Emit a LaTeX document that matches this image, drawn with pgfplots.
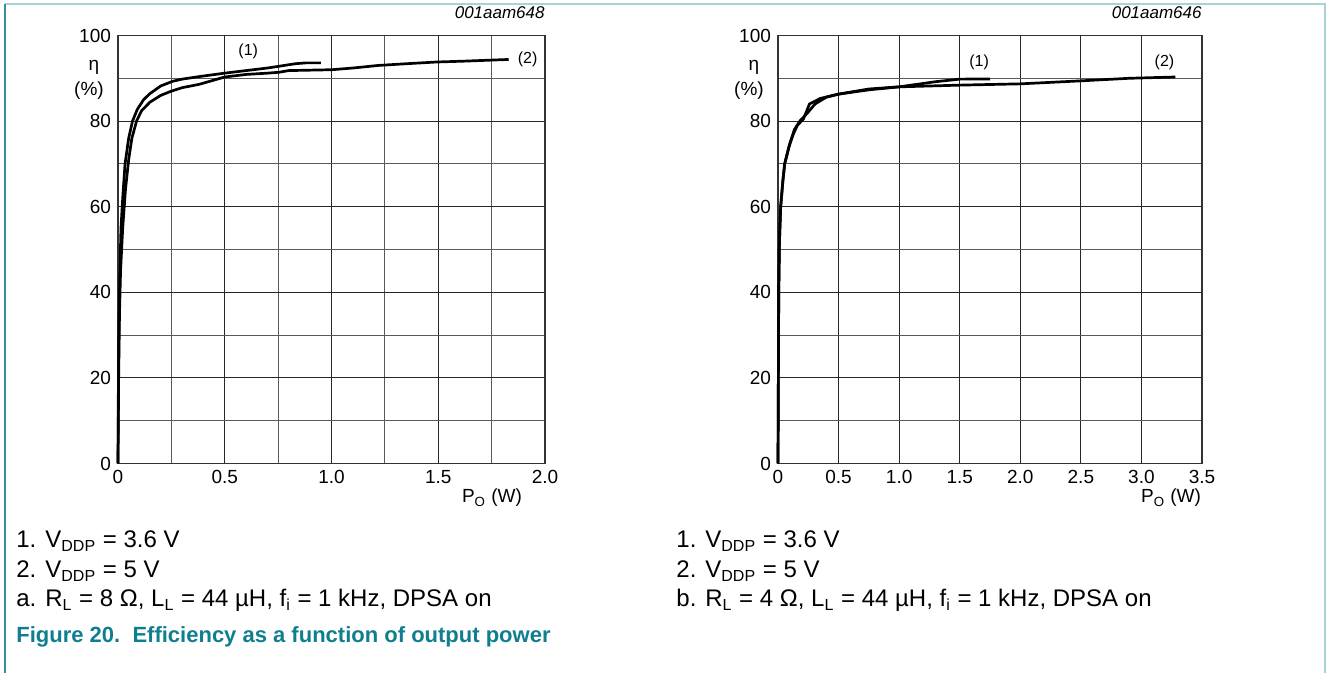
\documentclass[border=0pt]{standalone}
\usepackage{pgfplots}
\pgfplotsset{compat=1.18}
\usepackage{fontspec}
\setmainfont{Liberation Sans}

\definecolor{capteal}{HTML}{0F7F8F}
\definecolor{framedark}{HTML}{3A8F9C}
\definecolor{framelight}{HTML}{A6D3D6}

% one efficiency chart, y in percent
\pgfplotsset{effplot/.style={
    scale only axis, width=213.5pt, height=214pt, anchor=south west,
    ymin=0, ymax=100,
    ytick={0,20,...,100}, minor ytick={10,30,...,90},
    grid=both,
    major grid style={black!85, line width=0.5pt},
    minor grid style={black!65, line width=0.5pt},
    axis line style={black!80, line width=0.6pt},
    major tick length=0pt, minor tick length=0pt,
    tick label style={font=\fontsize{9.5}{11}\selectfont},
    /pgf/number format/assume math mode=true,
    clip=false,
}, curve/.style={black, line width=1.35pt, line join=round, no marks}}

\begin{document}
\begin{tikzpicture}
\path[use as bounding box] (0,0) rectangle (663pt,336.5pt);

% frame of the figure
\draw[framelight, line width=0.8pt] (2.5pt,334.5pt) -- (663pt,334.5pt);
\draw[framelight, line width=0.8pt] (662.5pt,334.5pt) -- (662.5pt,0pt);
\draw[framedark, line width=0.9pt] (2.5pt,334.5pt) -- (2.5pt,0pt);

% ---- a: RL = 8 ohm
\begin{axis}[effplot, at={(59pt,104.75pt)},
    xmin=0, xmax=2, xtick={0,0.5,...,2}, minor xtick={0.25,0.75,...,1.75},
    xticklabels={0,0.5,1.0,1.5,2.0}]
% (1) VDDP = 3.6 V
\addplot[curve] coordinates {
 (0,0) (0.002,20) (0.005,35) (0.009,45) (0.014,55) (0.022,62) (0.033,70)
 (0.05,76) (0.068,80) (0.09,82.7) (0.12,85) (0.149,86.4) (0.2,88.2)
 (0.256,89.3) (0.3,89.8) (0.381,90.4) (0.5,91.2) (0.6,91.8) (0.7,92.4)
 (0.753,92.8) (0.83,93.4) (0.88,93.6) (0.95,93.6)
};
% (2) VDDP = 5 V
\addplot[curve] coordinates {
 (0,0) (0.003,20) (0.007,35) (0.012,45) (0.022,55) (0.035,64) (0.05,71)
 (0.065,76) (0.087,80) (0.11,82.4) (0.149,84.4) (0.2,86) (0.25,87)
 (0.3,87.8) (0.381,88.6) (0.5,90.3) (0.6,90.9) (0.7,91.2) (0.753,91.4)
 (0.8,91.8) (0.9,91.9) (1.0,92.0) (1.1,92.4) (1.219,93.0) (1.35,93.4)
 (1.49,93.8) (1.62,94.0) (1.777,94.3) (1.83,94.4)
};
\node[font=\fontsize{8}{9}\selectfont] at (axis cs:0.61,96.2) {(1)};
\node[font=\fontsize{8}{9}\selectfont, anchor=west] at (axis cs:1.84,94.5) {(2)};
\end{axis}

% ---- b: RL = 4 ohm
\begin{axis}[effplot, at={(389pt,104.75pt)}, width=212pt,
    xmin=0, xmax=3.5, xtick={0,0.5,...,3.5},
    xticklabels={0,0.5,1.0,1.5,2.0,2.5,3.0,3.5}]
% (1) VDDP = 3.6 V
\addplot[curve] coordinates {
 (0,0) (0.003,20) (0.006,40) (0.012,52) (0.022,60) (0.04,66) (0.055,70)
 (0.09,74) (0.127,77) (0.16,79) (0.21,80.5) (0.26,84.0) (0.35,85.3)
 (0.5,86.3) (0.75,87.3) (1.0,88.0) (1.3,89.2) (1.5,89.8) (1.75,89.85)
};
% (2) VDDP = 5 V
\addplot[curve] coordinates {
 (0,0) (0.003,20) (0.006,40) (0.012,52) (0.022,60) (0.04,66) (0.055,70)
 (0.1,75) (0.135,78) (0.18,80) (0.24,81.8) (0.306,84) (0.4,85.6)
 (0.5,86.3) (0.75,87.5) (1.0,88.0) (1.5,88.4) (2.0,88.7) (2.5,89.4)
 (2.9,90.0) (3.28,90.3)
};
\node[font=\fontsize{8}{9}\selectfont] at (axis cs:1.66,93.8) {(1)};
\node[font=\fontsize{8}{9}\selectfont] at (axis cs:3.19,93.8) {(2)};
\end{axis}

% axis titles
\node[font=\fontsize{8.5}{10}\selectfont\itshape, anchor=base east, inner sep=0pt] at (272.5pt,327pt) {001aam648};
\node[font=\fontsize{8.5}{10}\selectfont\itshape, anchor=base east, inner sep=0pt] at (601pt,327pt) {001aam646};
\begin{scope}[every node/.style={font=\fontsize{9.5}{11}\selectfont, anchor=base, inner sep=0pt}]
\node at (47pt,301pt) {η};
\node at (44.5pt,288.5pt) {(\%)};
\node at (377pt,301pt) {η};
\node at (374.5pt,288.5pt) {(\%)};
\node at (246pt,85pt) {P\textsubscript{O} (W)};
\node at (585.5pt,85pt) {P\textsubscript{O} (W)};
\end{scope}

% notes below the charts
\begin{scope}[every node/.style={font=\fontsize{12}{14}\selectfont, anchor=base west, inner sep=0pt}]
\node at (8pt,62.5pt) {\makebox[14.5pt][l]{1.}V\textsubscript{DDP} = 3.6 V};
\node at (8pt,47.5pt) {\makebox[14.5pt][l]{2.}V\textsubscript{DDP} = 5 V};
\node at (8pt,33pt) {a. R\textsubscript{L} = 8 Ω, L\textsubscript{L} = 44 µH, f\textsubscript{i} = 1 kHz, DPSA on};
\node at (338pt,62.5pt) {\makebox[14.5pt][l]{1.}V\textsubscript{DDP} = 3.6 V};
\node at (338pt,47.5pt) {\makebox[14.5pt][l]{2.}V\textsubscript{DDP} = 5 V};
\node at (338pt,33pt) {b. R\textsubscript{L} = 4 Ω, L\textsubscript{L} = 44 µH, f\textsubscript{i} = 1 kHz, DPSA on};
\node[font=\fontsize{11}{13}\selectfont\bfseries, text=capteal] at (8pt,15pt) {Figure 20.\ \ Efficiency as a function of output power};
\end{scope}
\end{tikzpicture}
\end{document}
